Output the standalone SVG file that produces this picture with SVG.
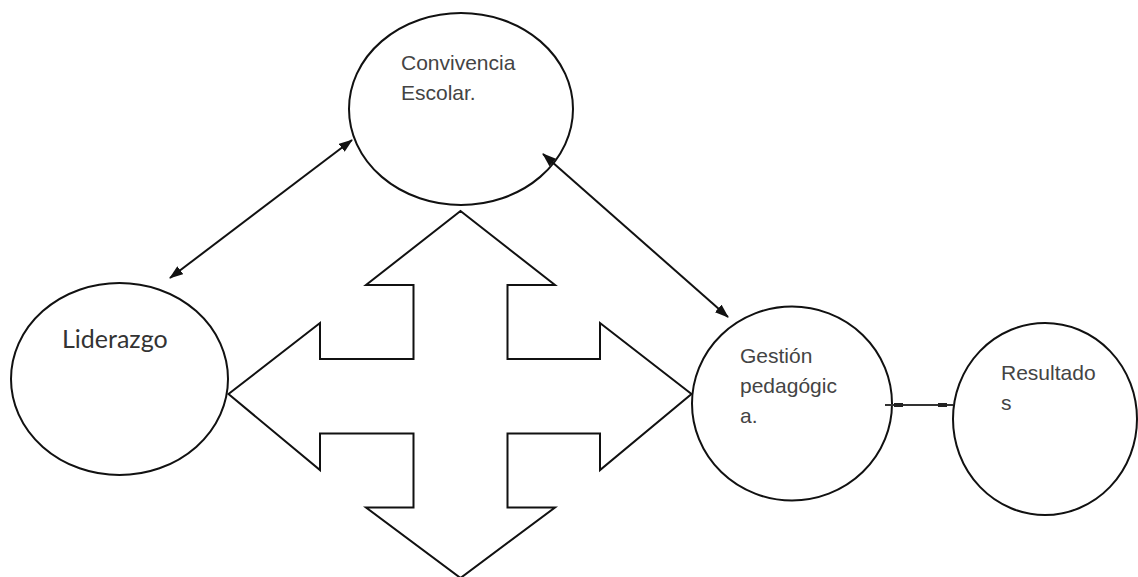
<svg xmlns="http://www.w3.org/2000/svg" width="1138" height="577" viewBox="0 0 1138 577">
<style>
.node{fill:#fff;stroke:#111;stroke-width:2}
.lbl{font-family:"Liberation Sans",Arial,sans-serif;font-size:21px;fill:#444}
.cal{font-family:Lato,"Open Sans",sans-serif;font-size:25px;fill:#333}
.conn{stroke:#111;stroke-width:2;fill:none}
</style>
<defs>
<marker id="ah" viewBox="0 0 14 10" refX="13" refY="5" markerWidth="14" markerHeight="10" markerUnits="userSpaceOnUse" orient="auto-start-reverse">
<path d="M0,0 L14,5 L0,10 Z" fill="#111"/>
</marker>
</defs>
<rect width="1138" height="577" fill="#fff"/>
<g id="cross">
<path class="node" d="M460.5,211 L555,285 L507.5,285 L507.5,359 L600,359 L600,323 L691.5,394 L600,470 L600,433.5 L507.5,433.5 L507.5,507.5 L555,507.5 L460.5,578 L366,507.5 L413.5,507.5 L413.5,433.5 L320,433.5 L320,470 L228.5,394 L320,323 L320,359 L413.5,359 L413.5,285 L366,285 Z"/>
</g>
<g id="convivencia">
<ellipse class="node" cx="461" cy="109" rx="112" ry="96"/>
<text class="lbl" x="401" y="70">Convivencia</text>
<text class="lbl" x="401" y="100">Escolar.</text>
</g>
<g id="liderazgo">
<ellipse class="node" cx="119.5" cy="379" rx="108.5" ry="96"/>
<text class="cal" x="62" y="348">Liderazgo</text>
</g>
<g id="gestion">
<ellipse class="node" cx="792" cy="403.5" rx="100" ry="97"/>
<text class="lbl" x="740" y="363">Gestión</text>
<text class="lbl" x="740" y="393">pedagógic</text>
<text class="lbl" x="740" y="423">a.</text>
</g>
<g id="resultados">
<ellipse class="node" cx="1045" cy="419" rx="92" ry="96"/>
<text class="lbl" x="1001" y="380">Resultado</text>
<text class="lbl" x="1001" y="410">s</text>
</g>
<g id="connectors">
<line class="conn" x1="170" y1="278" x2="352" y2="140" marker-start="url(#ah)" marker-end="url(#ah)"/>
<line class="conn" x1="543" y1="154" x2="728" y2="317" marker-start="url(#ah)" marker-end="url(#ah)"/>
<line x1="885" y1="405" x2="953" y2="405" stroke="#333" stroke-width="2"/>
<rect x="894" y="403" width="9" height="4" fill="#222"/>
<rect x="938" y="403" width="9" height="4" fill="#222"/>
</g>
</svg>
